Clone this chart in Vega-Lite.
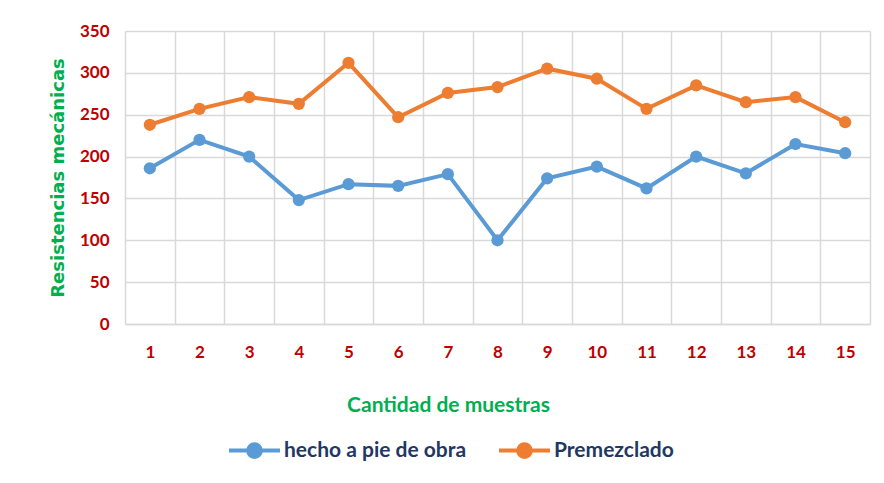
{
  "$schema": "https://vega.github.io/schema/vega-lite/v6.json",
  "autosize": {"type": "none"},
  "width": 745,
  "height": 293,
  "padding": {"left": 125, "top": 31, "right": 14, "bottom": 159},
  "background": "white",
  "data": {"values": [
    {"muestra": 1, "serie": "hecho a pie de obra", "valor": 186},
    {"muestra": 2, "serie": "hecho a pie de obra", "valor": 220},
    {"muestra": 3, "serie": "hecho a pie de obra", "valor": 200},
    {"muestra": 4, "serie": "hecho a pie de obra", "valor": 148},
    {"muestra": 5, "serie": "hecho a pie de obra", "valor": 167},
    {"muestra": 6, "serie": "hecho a pie de obra", "valor": 165},
    {"muestra": 7, "serie": "hecho a pie de obra", "valor": 179},
    {"muestra": 8, "serie": "hecho a pie de obra", "valor": 100},
    {"muestra": 9, "serie": "hecho a pie de obra", "valor": 174},
    {"muestra": 10, "serie": "hecho a pie de obra", "valor": 188},
    {"muestra": 11, "serie": "hecho a pie de obra", "valor": 162},
    {"muestra": 12, "serie": "hecho a pie de obra", "valor": 200},
    {"muestra": 13, "serie": "hecho a pie de obra", "valor": 180},
    {"muestra": 14, "serie": "hecho a pie de obra", "valor": 215},
    {"muestra": 15, "serie": "hecho a pie de obra", "valor": 204},
    {"muestra": 1, "serie": "Premezclado", "valor": 238},
    {"muestra": 2, "serie": "Premezclado", "valor": 257},
    {"muestra": 3, "serie": "Premezclado", "valor": 271},
    {"muestra": 4, "serie": "Premezclado", "valor": 263},
    {"muestra": 5, "serie": "Premezclado", "valor": 312},
    {"muestra": 6, "serie": "Premezclado", "valor": 247},
    {"muestra": 7, "serie": "Premezclado", "valor": 276},
    {"muestra": 8, "serie": "Premezclado", "valor": 283},
    {"muestra": 9, "serie": "Premezclado", "valor": 305},
    {"muestra": 10, "serie": "Premezclado", "valor": 293},
    {"muestra": 11, "serie": "Premezclado", "valor": 257},
    {"muestra": 12, "serie": "Premezclado", "valor": 285},
    {"muestra": 13, "serie": "Premezclado", "valor": 265},
    {"muestra": 14, "serie": "Premezclado", "valor": 271},
    {"muestra": 15, "serie": "Premezclado", "valor": 241}
  ]},
  "mark": {"type": "line", "strokeWidth": 4, "point": {"size": 150, "filled": true, "opacity": 1}},
  "encoding": {
    "x": {
      "field": "muestra", "type": "ordinal",
      "scale": {"type": "band", "paddingInner": 0, "paddingOuter": 0},
      "axis": {
        "title": "Cantidad de muestras",
        "labelAngle": 0,
        "tickBand": "extent",
        "ticks": false,
        "grid": true,
        "gridColor": "#d9d9d9",
        "gridWidth": 1.5,
        "domainColor": "#d9d9d9",
        "domainWidth": 1.5,
        "labelPadding": 20,
        "labelFont": "Lato",
        "labelFontWeight": "bold",
        "labelFontSize": 17,
        "labelColor": "#C00000",
        "titleFont": "Lato",
        "titleFontWeight": "bold",
        "titleFontSize": 21,
        "titleColor": "#00B050",
        "titleX": 323,
        "titleY": 70
      }
    },
    "y": {
      "field": "valor", "type": "quantitative",
      "scale": {"domain": [0, 350], "nice": false},
      "axis": {
        "title": "Resistencias  mecánicas",
        "values": [0, 50, 100, 150, 200, 250, 300, 350],
        "ticks": false,
        "domain": false,
        "gridColor": "#d9d9d9",
        "gridWidth": 1.5,
        "labelPadding": 16,
        "labelFont": "Lato",
        "labelFontWeight": "bold",
        "labelFontSize": 17,
        "labelColor": "#C00000",
        "titleFont": "DejaVu Sans",
        "titleFontWeight": "bold",
        "titleFontSize": 18,
        "titleColor": "#00B050",
        "titlePadding": 12
      }
    },
    "color": {
      "field": "serie", "type": "nominal",
      "scale": {"domain": ["hecho a pie de obra", "Premezclado"], "range": ["#5B9BD5", "#ED7D31"]},
      "legend": {
        "title": null,
        "orient": "none",
        "direction": "horizontal",
        "legendX": 102,
        "legendY": 392,
        "padding": 0,
        "symbolType": "M-1,0L1,0M-0.25,0A0.25,0.25,0,1,1,0.25,0A0.25,0.25,0,1,1,-0.25,0Z",
        "symbolSize": 2601,
        "symbolStrokeWidth": 4,
        "labelFont": "Lato",
        "labelFontWeight": "bold",
        "labelFontSize": 21,
        "labelLimit": 400,
        "labelColor": "#1F3864",
        "labelOffset": 2,
        "columnPadding": 24
      }
    }
  },
  "config": {"view": {"stroke": null}}
}
